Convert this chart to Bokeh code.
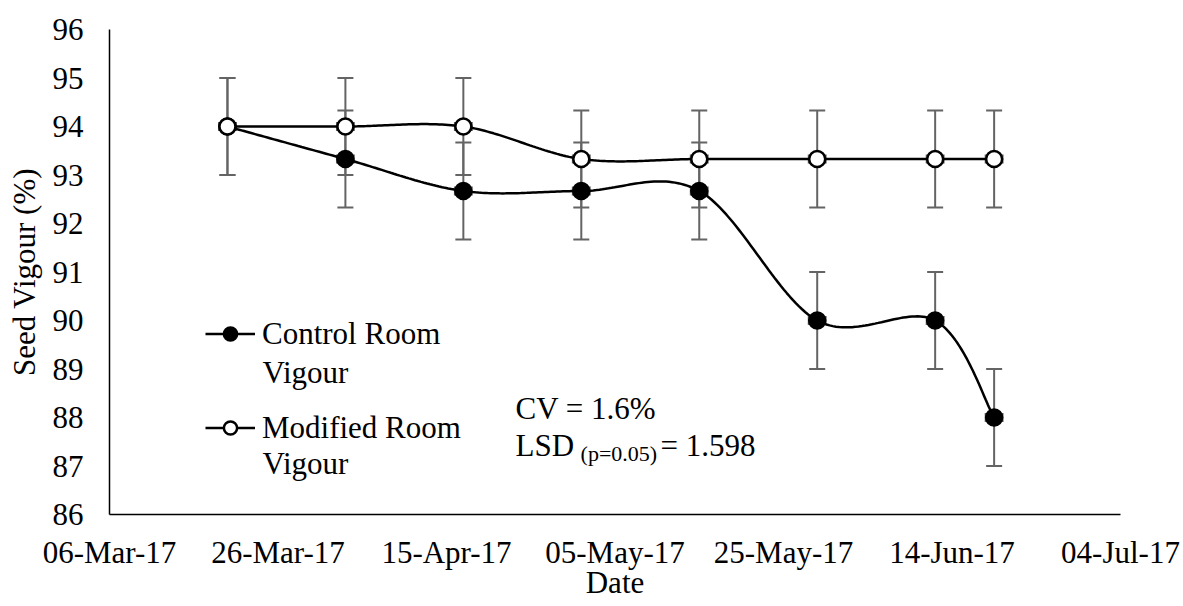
import numpy as np
import pandas as pd
from bokeh.plotting import figure
from bokeh.models import (Whisker, TeeHead, ColumnDataSource, FixedTicker,
                          DatetimeTickFormatter, Range1d, Label, Legend, LegendItem)
from bokeh.embed import file_html
from bokeh.resources import INLINE

# ---------------- data ----------------
dates = ["2017-03-20", "2017-04-03", "2017-04-17", "2017-05-01",
         "2017-05-15", "2017-05-29", "2017-06-12", "2017-06-19"]
control = [94.0, 93.33, 92.67, 92.67, 92.67, 90.0, 90.0, 88.0]
modified = [94.0, 94.0, 94.0, 93.33, 93.33, 93.33, 93.33, 93.33]
control_err = [1.0, 1.0, 1.0, 1.0, 1.0, 1.0, 1.0, 1.0]
modified_err = [1.0, 1.0, 1.0, 1.0, 1.0, 1.0, 1.0, 1.0]
date_err_days = [1, 1, 1, 1, 1, 1, 1, 1]
x_tick_labels = ["06-Mar-17", "26-Mar-17", "15-Apr-17", "05-May-17",
                 "25-May-17", "14-Jun-17", "04-Jul-17"]
y_ticks = [86, 87, 88, 89, 90, 91, 92, 93, 94, 95, 96]
series_names = ["Control Room", "Modified Room"]

FONT = "Liberation Serif"
FS = "31px"
DAY = 86400000.0

x_ms = pd.to_datetime(dates).astype("int64").to_numpy() // 10**6
x_ms = x_ms.astype(float)
tick_ms = (pd.to_datetime(x_tick_labels, format="%d-%b-%y").astype("int64").to_numpy() // 10**6).astype(float)


def smooth(xs, ys, sx=8.425, sy=48.5, n=40):
    X = np.asarray(xs) / DAY * sx
    Y = np.asarray(ys) * sy
    P = np.column_stack([X, Y])
    out = []
    for i in range(len(P) - 1):
        p0 = P[i - 1] if i > 0 else P[i]
        p1, p2 = P[i], P[i + 1]
        p3 = P[i + 2] if i + 2 < len(P) else P[i + 1]
        c1 = p1 + (p2 - p0) / 6.0
        c2 = p2 - (p3 - p1) / 6.0
        t = np.linspace(0, 1, n)[:, None]
        b = (1 - t) ** 3 * p1 + 3 * (1 - t) ** 2 * t * c1 + 3 * (1 - t) * t ** 2 * c2 + t ** 3 * p2
        out.append(b if i == 0 else b[1:])
    B = np.vstack(out)
    return B[:, 0] / sx * DAY, B[:, 1] / sy


p = figure(width=1183, height=606, output_backend="svg", toolbar_location=None,
           x_axis_type="datetime",
           x_range=Range1d(tick_ms[0], tick_ms[-1]), y_range=Range1d(86, 96),
           min_border_left=109, min_border_right=63, min_border_top=29,
           min_border_bottom=92)
p.outline_line_color = None
p.xgrid.grid_line_color = None
p.ygrid.grid_line_color = None
p.background_fill_color = "white"
p.border_fill_color = "white"

p.xaxis.ticker = FixedTicker(ticks=list(tick_ms))
p.xaxis.formatter = DatetimeTickFormatter(days="%d-%b-%y", months="%d-%b-%y",
                                          years="%d-%b-%y")
p.yaxis.ticker = FixedTicker(ticks=y_ticks)
for ax in (p.xaxis, p.yaxis):
    ax.axis_line_color = "black"
    ax.axis_line_width = 1.5
    ax.major_tick_line_color = None
    ax.minor_tick_line_color = None
    ax.major_tick_out = 0
    ax.major_tick_in = 0
    ax.major_label_text_font = FONT
    ax.major_label_text_font_size = FS
    ax.major_label_text_color = "black"
    ax.axis_label_text_font = FONT
    ax.axis_label_text_font_size = FS
    ax.axis_label_text_font_style = "normal"
    ax.axis_label_text_color = "black"
p.yaxis.axis_label = "Seed Vigour (%)"
p.xaxis.axis_label = "Date"
p.yaxis.major_label_standoff = 26
p.yaxis.axis_label_standoff = 8
p.xaxis.major_label_standoff = 20
p.xaxis.axis_label_standoff = -8

ERR_COLOR = "#646464"
items = []
for name, ys, errs, fill in ((series_names[0], control, control_err, "black"),
                             (series_names[1], modified, modified_err, "white")):
    ys = np.asarray(ys)
    errs = np.asarray(errs)
    derr = np.asarray(date_err_days) * DAY
    src = ColumnDataSource(dict(x=x_ms, y=ys, lo=ys - errs, hi=ys + errs,
                                xlo=x_ms - derr, xhi=x_ms + derr))
    wy = Whisker(base="x", lower="lo", upper="hi", source=src, dimension="height",
                 line_color=ERR_COLOR, line_width=2,
                 upper_head=TeeHead(size=16, line_color=ERR_COLOR, line_width=2),
                 lower_head=TeeHead(size=16, line_color=ERR_COLOR, line_width=2))
    wx = Whisker(base="y", lower="xlo", upper="xhi", source=src, dimension="width",
                 line_color=ERR_COLOR, line_width=1.5,
                 upper_head=TeeHead(size=9, line_color=ERR_COLOR, line_width=2),
                 lower_head=TeeHead(size=9, line_color=ERR_COLOR, line_width=2))
    p.add_layout(wy)
    p.add_layout(wx)
    sxs, sys_ = smooth(x_ms, ys)
    lr = p.line(sxs, sys_, line_color="black", line_width=2.5)
    sr = p.scatter("x", "y", source=src, size=16, marker="circle",
                   fill_color=fill, line_color="black", line_width=2.5)
    items.append(LegendItem(label=name, renderers=[lr, sr]))

legend = Legend(items=items, location=(96, 68), orientation="vertical",
                label_text_font=FONT, label_text_font_size=FS,
                label_text_color="black", glyph_width=50, glyph_height=33,
                label_height=37, label_standoff=7, spacing=57, padding=0,
                margin=0, border_line_color=None, background_fill_alpha=0)
p.add_layout(legend, "center")

# second lines of the legend labels
for yv in (88.93, 87.05):
    p.add_layout(Label(x=x_ms[0] + 4.15 * DAY, y=yv, text="Vigour",
                       text_font=FONT, text_font_size=FS, text_baseline="middle",
                       text_align="left", text_color="black"))

# statistics annotation
sx0 = x_ms[0] + 34.2 * DAY
p.add_layout(Label(x=sx0, y=88.19, text="CV = 1.6%", text_font=FONT,
                   text_font_size=FS, text_baseline="alphabetic", text_color="black"))
p.add_layout(Label(x=sx0, y=87.43, text="LSD", text_font=FONT,
                   text_font_size=FS, text_baseline="alphabetic", text_color="black"))
p.add_layout(Label(x=sx0, y=87.43, x_offset=65, y_offset=-8, text="(p=0.05)",
                   text_font=FONT, text_font_size="22px",
                   text_baseline="alphabetic", text_color="black"))
p.add_layout(Label(x=sx0, y=87.43, x_offset=145, text="= 1.598", text_font=FONT,
                   text_font_size=FS, text_baseline="alphabetic", text_color="black"))

open("out.html", "w").write(file_html(p, INLINE))
